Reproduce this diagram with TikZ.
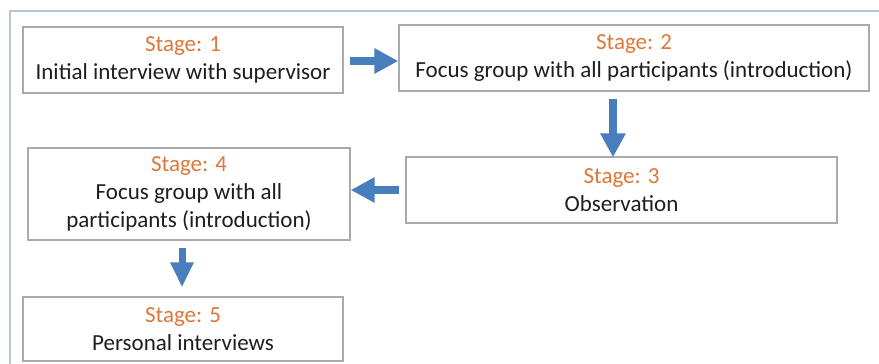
\documentclass[tikz,border=0pt]{standalone}
\usepackage{fontspec}
\setmainfont{Carlito}
\usetikzlibrary{arrows.meta,calc}
\definecolor{stageorange}{RGB}{221,120,58}
\definecolor{bodytext}{RGB}{30,30,30}
\definecolor{boxline}{RGB}{170,170,170}
\definecolor{frameline}{RGB}{176,196,222}
\definecolor{arrowblue}{RGB}{72,126,188}
\tikzset{
  stagebox/.style={draw=boxline, line width=1.4pt, fill=white, inner sep=0pt,
    align=center, text=bodytext, font=\fontsize{23}{28}\selectfont},
  blockarrow/.style={draw=arrowblue, line width=8pt,
    -{Triangle[width=24pt,length=24pt]}},
  frame/.style={draw=frameline, line width=1.5pt}
}
\newcommand{\stagelabel}[1]{{\color{stageorange}Stage: #1}}
\begin{document}
\begin{tikzpicture}[x=1pt,y=-1pt]
  \useasboundingbox (0,0) rectangle (879,364);
  \clip (0,0) rectangle (879,364);
  \fill[white] (0,0) rectangle (879,364);
  % surrounding frame, open at the right and bottom
  \draw[frame] (10,380) -- (10,11) -- (900,11);

  \node[stagebox, minimum width=320pt, minimum height=66pt] (b1) at (183,60)
    {\stagelabel{1}\\Initial interview with supervisor};
  \node[stagebox, minimum width=470pt, minimum height=66pt] (b2) at (634,58)
    {\stagelabel{2}\\Focus group with all participants (introduction)};
  \node[stagebox, minimum width=431pt, minimum height=66pt] (b3) at (621.5,190)
    {\stagelabel{3}\\Observation};
  \node[stagebox, minimum width=322pt, minimum height=92pt] (b4) at (189,194)
    {\stagelabel{4}\\Focus group with all\\participants (introduction)};
  \node[stagebox, minimum width=320pt, minimum height=64pt] (b5) at (183,329)
    {\stagelabel{5}\\Personal interviews};

  % block arrows between the stages
  \draw[blockarrow] ($(b1.east)+(6,1)$) -- ($(b1.east -| b2.west)+(0,1)$);
  \draw[blockarrow] ($(b2.south)+(-21,7)$) -- ($(b3.north)+(-8.5,1)$);
  \draw[blockarrow] ($(b3.west)+(-6,0)$) -- (b3.west -| b4.east);
  \draw[blockarrow, line width=7pt, -{Triangle[width=22pt,length=25pt]}]
    ($(b4.south)+(-7,7)$) -- ($(b5.north)+(-1,-9)$);
\end{tikzpicture}
\end{document}
